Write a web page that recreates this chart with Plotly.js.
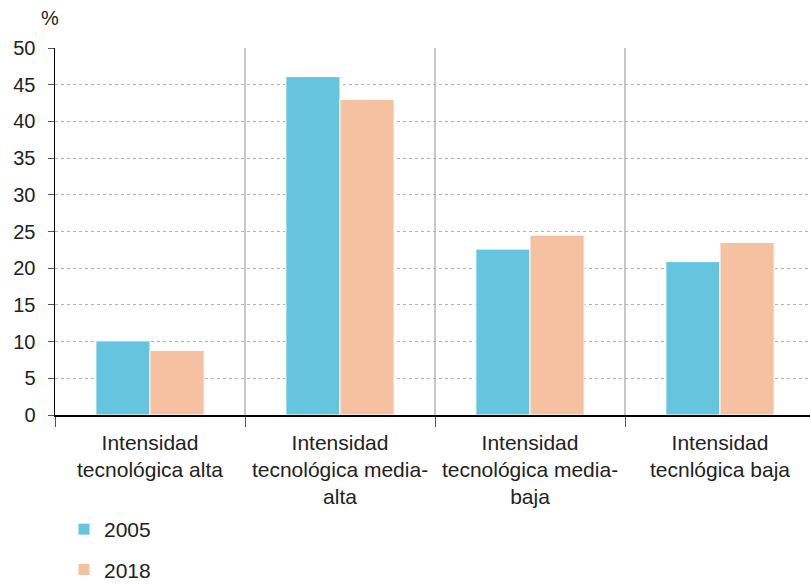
<!DOCTYPE html>
<html>
<head>
<meta charset="utf-8">
<script src="https://cdn.plot.ly/plotly-3.0.1.min.js"></script>
<style>html,body{margin:0;padding:0;background:#fff;overflow:hidden;}#chart{width:815px;height:584px;}</style>
</head>
<body>
<div id="chart"></div>
<script>
const categories = [
  "Intensidad<br>tecnológica alta",
  "Intensidad<br>tecnológica media-<br>alta",
  "Intensidad<br>tecnológica media-<br>baja",
  "Intensidad<br>tecnlógica baja"
];
const values2005 = [10.1, 46.1, 22.6, 20.9];
const values2018 = [8.8, 43.0, 24.5, 23.5];
const yTicks = [0, 5, 10, 15, 20, 25, 30, 35, 40, 45, 50];

const font = "Liberation Sans, Arial, Helvetica, sans-serif";
const traces = [
  {type: "bar", name: "2005", x: categories, y: values2005, legendgroup: "a",
   marker: {color: "#66C5DE", line: {color: "#ffffff", width: 1}}},
  {type: "bar", name: "2018", x: categories, y: values2018, legendgroup: "b",
   marker: {color: "#F5C1A0", line: {color: "#ffffff", width: 1}}}
];
const layout = {
  width: 815, height: 584,
  margin: {l: 55, r: 0, t: 48, b: 169, autoexpand: false},
  paper_bgcolor: "#fff", plot_bgcolor: "#fff",
  font: {family: font, size: 20, color: "#222"},
  barmode: "group", bargap: 0.43, bargroupgap: 0,
  showlegend: true,
  legend: {orientation: "v", x: 9 / 760, xanchor: "left", y: -94 / 367, yanchor: "top",
           font: {size: 21, color: "#222"}, tracegroupgap: 10, itemwidth: 30},
  xaxis: {
    type: "category", tickson: "boundaries", showgrid: true, gridcolor: "#c8c8c8", gridwidth: 2,
    ticks: "outside", ticklen: 10, tickcolor: "#555", tickwidth: 1, tickangle: 0,
    showline: true, linecolor: "#000", linewidth: 1.5,
    ticklabelstandoff: 8,
    tickfont: {size: 21, color: "#222"}, automargin: false
  },
  yaxis: {
    range: [0, 50], tickvals: yTicks, ticks: "outside", ticklen: 6, tickcolor: "#555",
    showline: true, linecolor: "#000", linewidth: 1.5,
    showgrid: true, gridcolor: "#b0b0b0", griddash: "dot", gridwidth: 1,
    ticklabelstandoff: 8,
    zeroline: false, tickfont: {size: 20, color: "#222"}, automargin: false
  },
  annotations: [{text: "%", xref: "paper", yref: "paper", x: -16 / 760, y: 1.083,
                 xanchor: "left", yanchor: "middle", showarrow: false,
                 font: {size: 20, color: "#222"}}]
};
Plotly.newPlot("chart", traces, layout, {displayModeBar: false, staticPlot: true});
</script>
</body>
</html>
